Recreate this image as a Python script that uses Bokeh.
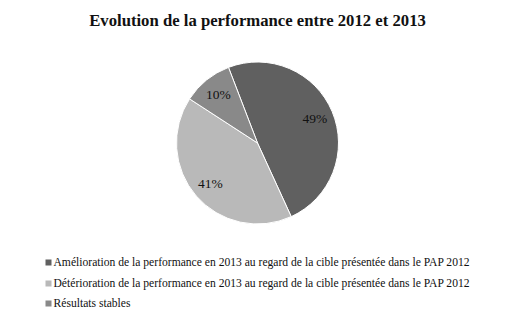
from bokeh.plotting import figure
from bokeh.models import Range1d, ColumnDataSource
from bokeh.core.properties import value
from bokeh.embed import file_html
from bokeh.resources import INLINE
import math

title = "Evolution de la performance entre 2012 et 2013"
categories = [
    "Amélioration de la performance en 2013 au regard de la cible présentée dans le PAP 2012",
    "Détérioration de la performance en 2013 au regard de la cible présentée dans le PAP 2012",
    "Résultats stables",
]
values = [49, 41, 10]
labels = ["49%", "41%", "10%"]
colors = ["#606060", "#b9b9b9", "#898989"]

W, H = 513, 321
p = figure(width=W, height=H, output_backend="svg", toolbar_location=None,
           x_range=Range1d(0, W), y_range=Range1d(0, H), min_border=0)
p.axis.visible = False
p.grid.visible = False
p.outline_line_color = None
p.background_fill_color = "white"
p.border_fill_color = "white"

FONT = value("Liberation Serif")

# pie
cx, cy, r = 257, H - 142.5, 81
total = sum(values)
start0 = math.radians(111)
starts, ends, lx, ly = [], [], [], []
a = start0
for v in values:
    sweep = 2 * math.pi * v / total
    starts.append(a - sweep)
    ends.append(a)
    mid = a - sweep / 2
    lx.append(cx + 0.77 * r * math.cos(mid))
    ly.append(cy + 0.77 * r * math.sin(mid))
    a -= sweep

src = ColumnDataSource(dict(start=starts, end=ends, color=colors, lx=lx, ly=ly, lab=labels))
p.wedge(x=cx, y=cy, radius=r, start_angle="start", end_angle="end", fill_color="color",
        line_color="white", line_width=1, source=src)
p.text(x="lx", y="ly", text="lab", source=src, text_font=FONT, text_font_size="13.5px",
       text_align="center", text_baseline="middle", text_color="#111111")

# title
p.text(x=[W / 2 + 0.5], y=[H - 20], text=[title], text_font=FONT, text_font_size="16.7px",
       text_font_style="bold", text_align="center", text_baseline="middle", text_color="#111111")

# legend
rows_y = [H - 262, H - 283, H - 303]
p.scatter(x=[48] * 3, y=rows_y, marker="square", size=6, fill_color=colors, line_color=None)
p.text(x=[53] * 3, y=rows_y, text=categories, text_font=FONT, text_font_size="11.6px",
       text_align="left", text_baseline="middle", text_color="#111111")

open("out.html", "w").write(file_html(p, INLINE))
